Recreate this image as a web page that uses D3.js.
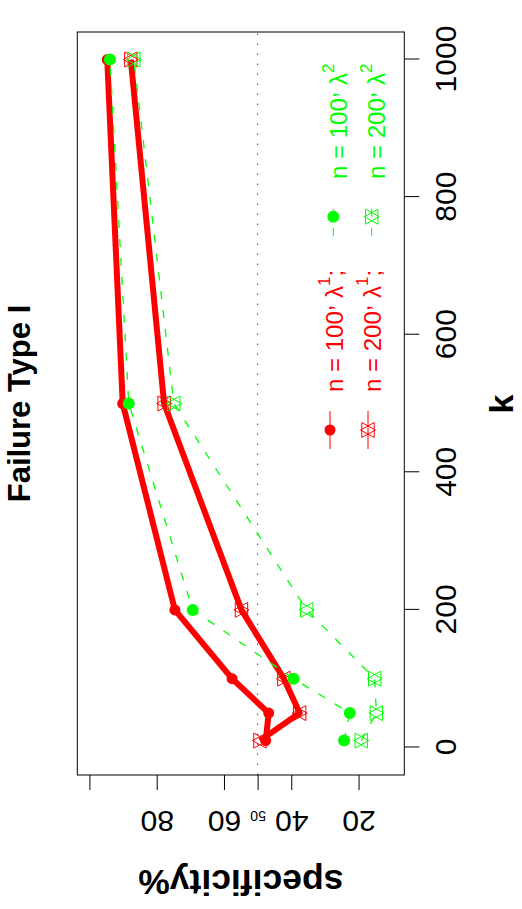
<!DOCTYPE html>
<html lang="en">
<head>
<meta charset="utf-8">
<title>Failure Type I</title>
<script src="https://d3js.org/d3.v7.min.js"></script>
<style>
  body { margin: 0; background: #fff; }
  svg { display: block; font-family: "Liberation Sans", Arial, sans-serif; }
</style>
</head>
<body>
<svg id="chart"></svg>
<script>
var kValues = [10, 50, 100, 200, 500, 1000];
var n100L1 = [47.6, 46.7, 57.6, 74.6, 90.1, 94.7];
var n200L1 = [49.3, 37.5, 42.2, 54.8, 77.8, 87.7];
var n100L2 = [24.3, 22.6, 39.3, 69.3, 88.3, 93.9];
var n200L2 = [19.2, 14.7, 15.2, 35.4, 74.9, 86.8];

var kTicks = [0, 200, 400, 600, 800, 1000];
var yTicks = [20, 40, 60, 80, 100];
var yLabels = ["20", "40", "60", "80", ""];
var refLevel = 50;

var legendN = ["100", "200"];
var legendSup = ["1", "2"];

var red = "#ff0000", green = "#00ff00";

var series = [
    {values: n100L1, color: red, shape: "circle", lw: 6, dash: null},
    {values: n200L1, color: red, shape: "star", lw: 6, dash: null},
    {values: n100L2, color: green, shape: "circle", lw: 1.3, dash: "8,11"},
    {values: n200L2, color: green, shape: "star", lw: 1.3, dash: "8,11"}
];

// the plot is drawn landscape and then turned a quarter turn
var W = 909, H = 522;
var box = {left: 134, right: 877, top: 77.3, bottom: 404.3};

var x = d3.scaleLinear().domain([-40, 1040]).range([box.left, box.right]);
var y = d3.scaleLinear().domain([6.4, 103.6]).range([box.bottom, box.top]);

var svg = d3.select("#chart")
    .attr("width", H)
    .attr("height", W);
var g = svg.append("g")
    .attr("transform", "translate(0," + W + ") rotate(-90)");

// k axis
var xAxis = g.append("g")
    .attr("transform", "translate(0," + box.bottom + ")")
    .call(d3.axisBottom(x).tickValues(kTicks).tickSize(15).tickPadding(15.7)
        .tickFormat(d3.format("d")));
xAxis.select(".domain").remove();
xAxis.attr("font-size", 30).attr("font-family", null);
xAxis.selectAll("line").attr("stroke", "#000");

// specificity axis, labels turned like R's las=0
var yAxis = g.append("g")
    .attr("transform", "translate(" + box.left + ",0)")
    .call(d3.axisLeft(y).tickValues(yTicks.concat([refLevel])).tickSize(15)
        .tickFormat(function (d) {
            var i = yTicks.indexOf(d);
            return i >= 0 ? yLabels[i] : String(d);
        }));
yAxis.select(".domain").remove();
yAxis.attr("font-family", null);
yAxis.selectAll("line").attr("stroke", "#000");
yAxis.selectAll("text")
    .attr("x", null)
    .attr("dy", null)
    .attr("text-anchor", "middle")
    .attr("font-size", function (d) { return d === refLevel ? 14 : 30; })
    .attr("transform", "translate(-35.5,0) rotate(-90)");

// reference line at 50
g.append("line")
    .attr("x1", box.left).attr("x2", box.right)
    .attr("y1", y(refLevel)).attr("y2", y(refLevel))
    .attr("stroke", "#444")
    .attr("stroke-width", 1)
    .attr("stroke-dasharray", "1.5,8.5");

// box
g.append("rect")
    .attr("x", box.left).attr("y", box.top)
    .attr("width", box.right - box.left)
    .attr("height", box.bottom - box.top)
    .attr("fill", "none")
    .attr("stroke", "#000")
    .attr("stroke-width", 1);

function starPath(cx, cy) {
    var r = 7.5, yc = 6.2, xc = 7.5;
    return "M" + cx + "," + (cy - r) + "L" + (cx + xc) + "," + (cy + yc) + "L" + (cx - xc) + "," + (cy + yc) + "Z" +
        "M" + cx + "," + (cy + r) + "L" + (cx + xc) + "," + (cy - yc) + "L" + (cx - xc) + "," + (cy - yc) + "Z";
}

function drawMarker(sel, shape, color, cx, cy, r) {
    if (shape === "circle") {
        sel.append("circle")
            .attr("cx", cx).attr("cy", cy).attr("r", r)
            .attr("fill", color);
    } else {
        sel.append("path")
            .attr("d", starPath(cx, cy))
            .attr("fill", "none")
            .attr("stroke", color)
            .attr("stroke-width", 1);
    }
}

var line = d3.line()
    .x(function (d) { return x(d.k); })
    .y(function (d) { return y(d.v); });

series.forEach(function (s) {
    var pts = kValues.map(function (k, i) { return {k: k, v: s.values[i]}; });
    g.append("path")
        .datum(pts)
        .attr("d", line)
        .attr("fill", "none")
        .attr("stroke", s.color)
        .attr("stroke-width", s.lw)
        .attr("stroke-linejoin", "round")
        .attr("stroke-dasharray", s.dash);
    var mk = g.append("g");
    pts.forEach(function (p) {
        drawMarker(mk, s.shape, s.color, x(p.k), y(p.v), s.color === red ? 5.5 : 6);
    });
});

// titles
g.append("text")
    .attr("x", (box.left + box.right) / 2).attr("y", 30)
    .attr("text-anchor", "middle")
    .attr("font-weight", "bold")
    .attr("font-size", 31)
    .text("Failure Type I");

g.append("text")
    .attr("x", 505).attr("y", 513)
    .attr("text-anchor", "middle")
    .attr("font-weight", "bold")
    .attr("font-size", 34)
    .text("k");

g.append("text")
    .attr("transform", "translate(39," + (box.top + box.bottom) / 2 + ") rotate(-90)")
    .attr("text-anchor", "middle")
    .attr("font-weight", "bold")
    .attr("font-size", 35.5)
    .text("specificity%");

// legend, two columns (lambda 1 red, lambda 2 green), rows n=100 / n=200
var legendCols = [
    {color: red, lw: 1, dash: null, mu: 479, tu: 517, rows: [330, 368], base: [342.5, 381], tail: ";"},
    {color: green, lw: 1, dash: "8,11", mu: 692.3, tu: 730, rows: [333.3, 371.7], base: [346.5, 385], tail: ""}
];
var shapes = ["circle", "star"];
var leg = g.append("g");

legendCols.forEach(function (c, ci) {
    legendN.forEach(function (n, ri) {
        var v = c.rows[ri];
        leg.append("line")
            .attr("x1", c.mu - 19).attr("x2", c.mu + 19)
            .attr("y1", v).attr("y2", v)
            .attr("stroke", c.color)
            .attr("stroke-width", c.lw)
            .attr("stroke-dasharray", c.dash);
        drawMarker(leg, shapes[ri], c.color, c.mu, v, ci === 0 ? 5.5 : 6);
        var t = leg.append("text")
            .attr("x", c.tu).attr("y", c.base[ri])
            .attr("font-size", 24)
            .attr("fill", c.color);
        t.append("tspan").text("n = " + n);
        t.append("tspan").attr("dy", -11).text(",");
        t.append("tspan").attr("dy", 11).text(" \u03bb");
        t.append("tspan").attr("dy", -13).attr("font-size", 17).text(legendSup[ci]);
        if (c.tail) {
            t.append("tspan").attr("dy", 13).text(c.tail);
        }
    });
});
</script>
</body>
</html>
